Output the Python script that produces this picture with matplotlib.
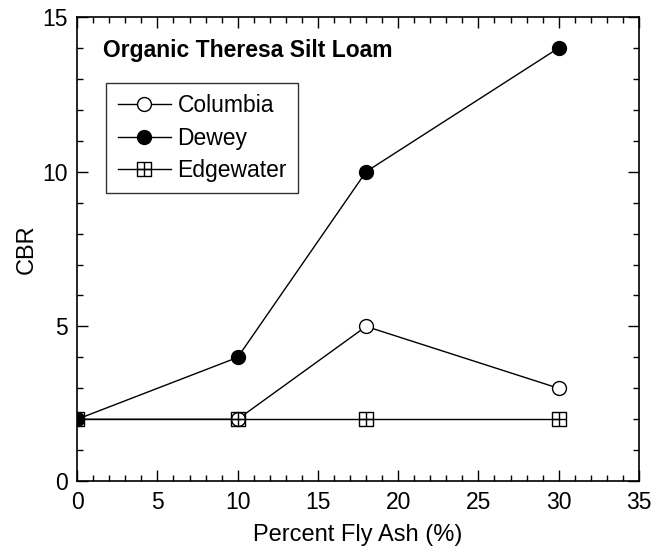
import matplotlib
matplotlib.use("Agg")
import matplotlib.pyplot as plt
from matplotlib.path import Path
from matplotlib.ticker import MultipleLocator

plt.rcParams['font.family'] = ['Liberation Sans', 'DejaVu Sans']

# data
fly_ash = [0, 10, 18, 30]
columbia = [2, 2, 5, 3]
dewey = [2, 4, 10, 14]
edgewater = [2, 2, 2, 2]

# square with a cross inside
box_cross = Path(
    [(-1, -1), (1, -1), (1, 1), (-1, 1), (-1, -1), (0, -1), (0, 1), (-1, 0), (1, 0)],
    [Path.MOVETO, Path.LINETO, Path.LINETO, Path.LINETO, Path.CLOSEPOLY,
     Path.MOVETO, Path.LINETO, Path.MOVETO, Path.LINETO])

fig = plt.figure(figsize=(6.54, 5.48), dpi=100)
ax = fig.add_axes([0.118, 0.122, 0.859, 0.847])

ax.plot(fly_ash, columbia, color='black', lw=1, marker='o', ms=10,
        mfc='white', mec='black', mew=1, label='Columbia')
ax.plot(fly_ash, dewey, color='black', lw=1, marker='o', ms=10,
        mfc='black', mec='black', label='Dewey')
ax.plot(fly_ash, edgewater, color='black', lw=1, marker=box_cross, ms=10,
        mfc='none', mec='black', mew=1, label='Edgewater')

ax.set_xlim(0, 35)
ax.set_ylim(0, 15)
ax.xaxis.set_major_locator(MultipleLocator(5))
ax.xaxis.set_minor_locator(MultipleLocator(1))
ax.yaxis.set_major_locator(MultipleLocator(5))
ax.yaxis.set_minor_locator(MultipleLocator(1))
ax.tick_params(which='both', direction='in', top=True, right=True, labelsize=16.5)
ax.tick_params(which='major', length=8, width=1)
ax.tick_params(which='minor', length=4, width=1)
ax.tick_params(axis='x', pad=7)
ax.tick_params(axis='y', pad=7)
for s in ax.spines.values():
    s.set_linewidth(1.2)

ax.set_xlabel('Percent Fly Ash (%)', fontsize=17, labelpad=7)
ax.set_ylabel('CBR', fontsize=17, labelpad=3)

ax.text(0.046, 0.914, 'Organic Theresa Silt Loam', transform=ax.transAxes,
        fontsize=16.5, fontweight='bold', va='baseline', ha='left')

leg = ax.legend(loc='upper left', bbox_to_anchor=(0.052, 0.858), fontsize=16.5,
                frameon=True, fancybox=False, edgecolor='black',
                handlelength=2.3, handletextpad=0.3, borderpad=0.5,
                labelspacing=0.4, borderaxespad=0)
leg.get_frame().set_linewidth(1)

fig.savefig('out.png', dpi=100)
